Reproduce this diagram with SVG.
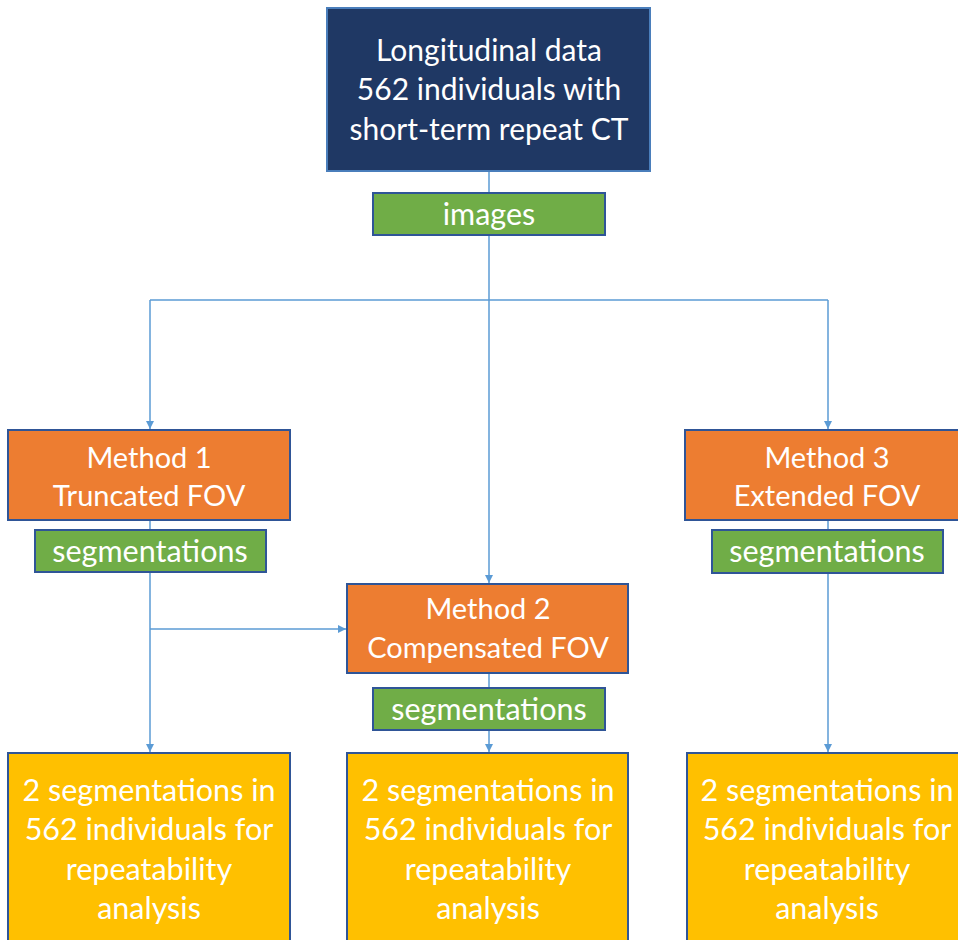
<svg xmlns="http://www.w3.org/2000/svg" width="958" height="940" viewBox="0 0 958 940">
<defs>
<style>
.t{font-family:Lato,"Open Sans","Liberation Sans",sans-serif;fill:#fff;text-anchor:middle;font-size:30px}
.s{font-size:30.5px}
.m{font-size:29px}
.navy{fill:#1F3864;stroke:#4A7EBB;stroke-width:2}
.green{fill:#70AD47;stroke:#2F5597;stroke-width:2}
.orange{fill:#ED7D31;stroke:#2F5597;stroke-width:2}
.yellow{fill:#FFC000;stroke:#2F5597;stroke-width:2}
.c{fill:none;stroke:#5B9BD5;stroke-width:1.5}
</style>
<marker id="a" viewBox="0 0 10 10" refX="10" refY="5" markerWidth="8" markerHeight="8" markerUnits="userSpaceOnUse" orient="auto"><path d="M0,0L10,5L0,10z" fill="#5B9BD5"/></marker>
</defs>
<rect width="958" height="940" fill="#fff"/>
<g id="connectors">
<path class="c" d="M489,172V193"/>
<path class="c" d="M489,235V583" marker-end="url(#a)"/>
<path class="c" d="M150,300H828"/>
<path class="c" d="M150,300V429" marker-end="url(#a)"/>
<path class="c" d="M828,300V429" marker-end="url(#a)"/>
<path class="c" d="M150,520V530"/>
<path class="c" d="M828,520V530"/>
<path class="c" d="M489,673V688"/>
<path class="c" d="M150,572V752" marker-end="url(#a)"/>
<path class="c" d="M150,629H346" marker-end="url(#a)"/>
<path class="c" d="M489,730V752" marker-end="url(#a)"/>
<path class="c" d="M828,573V752" marker-end="url(#a)"/>
</g>
<g id="top">
<rect class="navy" x="327" y="8" width="323" height="163"/>
<text class="t" x="489" y="61">Longitudinal data</text>
<text class="t" x="489" y="100">562 individuals with</text>
<text class="t" x="489" y="140">short-term repeat CT</text>
</g>
<g id="images">
<rect class="green" x="373" y="193" width="232" height="42"/>
<text class="t s" x="489" y="225">images</text>
</g>
<g id="method1">
<rect class="orange" x="8" y="430" width="282" height="90"/>
<text class="t m" x="149" y="468">Method 1</text>
<text class="t m" x="149" y="506">Truncated FOV</text>
</g>
<g id="seg1">
<rect class="green" x="35" y="530" width="231" height="42"/>
<text class="t s" x="150" y="562">segmentations</text>
</g>
<g id="method2">
<rect class="orange" x="347" y="584" width="281" height="89"/>
<text class="t m" x="488" y="619">Method 2</text>
<text class="t m" x="488" y="658">Compensated FOV</text>
</g>
<g id="seg2">
<rect class="green" x="373" y="688" width="232" height="42"/>
<text class="t s" x="489" y="720">segmentations</text>
</g>
<g id="method3">
<rect class="orange" x="685" y="430" width="278" height="90"/>
<text class="t m" x="827" y="468">Method 3</text>
<text class="t m" x="827" y="506">Extended FOV</text>
</g>
<g id="seg3">
<rect class="green" x="712" y="530" width="231" height="43"/>
<text class="t s" x="827" y="562">segmentations</text>
</g>
<g id="result1">
<rect class="yellow" x="8" y="753" width="282" height="200"/>
<text class="t s" x="149" y="801">2 segmentations in</text>
<text class="t s" x="149" y="840">562 individuals for</text>
<text class="t s" x="149" y="880">repeatability</text>
<text class="t s" x="149" y="919">analysis</text>
</g>
<g id="result2">
<rect class="yellow" x="347" y="753" width="281" height="200"/>
<text class="t s" x="488" y="801">2 segmentations in</text>
<text class="t s" x="488" y="840">562 individuals for</text>
<text class="t s" x="488" y="880">repeatability</text>
<text class="t s" x="488" y="919">analysis</text>
</g>
<g id="result3">
<rect class="yellow" x="687" y="753" width="280" height="200"/>
<text class="t s" x="827" y="801">2 segmentations in</text>
<text class="t s" x="827" y="840">562 individuals for</text>
<text class="t s" x="827" y="880">repeatability</text>
<text class="t s" x="827" y="919">analysis</text>
</g>
</svg>
